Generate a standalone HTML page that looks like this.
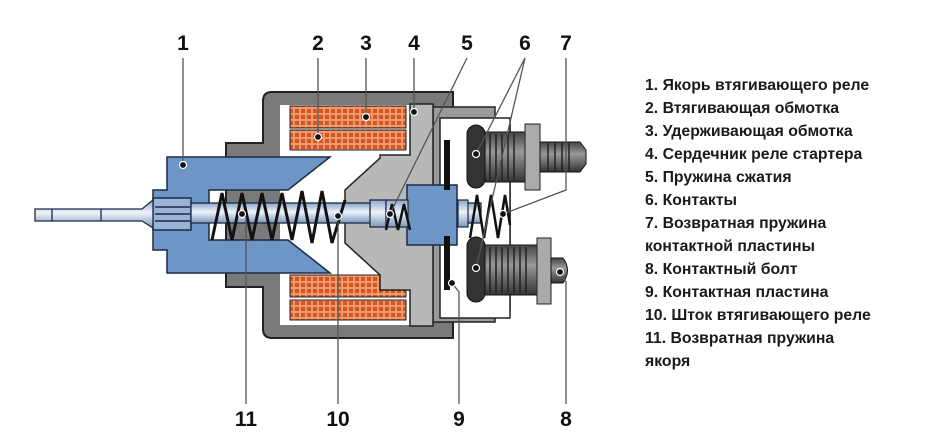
<!DOCTYPE html>
<html><head><meta charset="utf-8"><style>
body{margin:0;background:#fff;width:939px;height:445px;overflow:hidden}
svg{display:block}
.n{font-family:"Liberation Sans",sans-serif;font-weight:bold;font-size:21px;fill:#111;text-anchor:middle}
.t{font-family:"Liberation Sans","DejaVu Sans",sans-serif;font-size:15.8px;font-weight:bold;fill:#1a1a1a}
.l{stroke:#555;stroke-width:1.3;fill:none}
</style></head><body>
<svg width="939" height="445" viewBox="0 0 939 445">
<defs>
<pattern id="coil" width="6" height="6" patternUnits="userSpaceOnUse">
<rect width="6" height="6" fill="#f09a6a"/><rect x="1" y="1" width="4" height="4" fill="#d4552a"/>
</pattern>
<linearGradient id="rod" x1="0" y1="0" x2="0" y2="1">
<stop offset="0" stop-color="#8aa6c8"/><stop offset=".45" stop-color="#eef3fa"/><stop offset="1" stop-color="#7d98bc"/>
</linearGradient>
<linearGradient id="bolt" x1="0" y1="0" x2="0" y2="1">
<stop offset="0" stop-color="#444"/><stop offset=".4" stop-color="#999"/><stop offset="1" stop-color="#333"/>
</linearGradient>
</defs>
<!-- housing -->
<path d="M272,92 H453 V338 H272 Q263,338 263,329 V287 H226 V143 H263 V101 Q263,92 272,92Z" fill="#7a7a7a" stroke="#222" stroke-width="2"/>
<!-- contact frame -->
<path d="M433,107 H495 V125 H510 V310 H495 V322 H433Z" fill="#9a9a9a" stroke="#222" stroke-width="1.5"/>
<rect x="440" y="118" width="70" height="200" fill="#fff" stroke="#222" stroke-width="1.5"/>
<!-- inner cavity -->
<rect x="280" y="105" width="130" height="220" fill="#fff"/>
<!-- coils -->
<rect x="290" y="106" width="116" height="22" fill="url(#coil)" stroke="#222" stroke-width="1"/>
<rect x="290" y="130" width="116" height="20" fill="url(#coil)" stroke="#222" stroke-width="1"/>
<rect x="290" y="275" width="116" height="22" fill="url(#coil)" stroke="#222" stroke-width="1"/>
<rect x="290" y="300" width="116" height="20" fill="url(#coil)" stroke="#222" stroke-width="1"/>
<!-- core -->
<path d="M410,104 H433 V326 H410 V290 H380 V275 L345,243 V190 L380,158 V155 H410Z" fill="#b8b8b8" stroke="#222" stroke-width="1.5"/>
<!-- armature -->
<path d="M167,157 H330 L288,190 H209 V240 H288 L330,273 H167 V250 H153 V190 H167Z" fill="#6d95c6" stroke="#1c2a44" stroke-width="1.5"/>
<rect x="153" y="198" width="38" height="32" fill="#9ab4d6" stroke="#1c2a44" stroke-width="1.5"/>
<path d="M155,207 H190 M155,214 H190 M155,221 H190" stroke="#1c2a44" stroke-width="1.5"/>
<!-- left stub -->
<path d="M35,209 H142 L153,200 V228 L142,221 H35Z" fill="url(#rod)" stroke="#1c2a44" stroke-width="1.3"/>
<path d="M52,209 V221 M101,209 V221" stroke="#1c2a44" stroke-width="1.3"/>
<!-- rod -->
<rect x="191" y="203" width="290" height="20" fill="url(#rod)" stroke="#1c2a44" stroke-width="1.3"/>
<rect x="370" y="200" width="16" height="27" fill="url(#rod)" stroke="#1c2a44" stroke-width="1.3"/>
<!-- blue disk -->
<rect x="407" y="185" width="50" height="60" fill="#6d95c6" stroke="#1c2a44" stroke-width="1.5"/>
<rect x="386" y="200" width="22" height="27" fill="url(#rod)" stroke="#1c2a44" stroke-width="1.2"/>
<rect x="458" y="200" width="10" height="27" fill="url(#rod)" stroke="#1c2a44" stroke-width="1.2"/>
<!-- contact plate -->
<rect x="444" y="140" width="6" height="50" fill="#111"/>
<rect x="444" y="236" width="6" height="54" fill="#111"/>
<!-- springs -->
<polyline points="212,240 222,193 232,240 242,193 252,240 262,193 272,240 282,193 292,240 302,191 312,243 322,191 332,243 345,200" fill="none" stroke="#111" stroke-width="3"/>
<polyline points="386,230 392,204 398,230 404,204 410,230" fill="none" stroke="#111" stroke-width="2.5"/>
<polyline points="470,238 477,195 484,238 491,195 498,238 505,195 510,225" fill="none" stroke="#111" stroke-width="2.5"/>
<!-- bolts -->
<g>
<rect x="467" y="125" width="18" height="63" rx="9" fill="#333" stroke="#111"/>
<rect x="485" y="132" width="40" height="50" fill="url(#bolt)" stroke="#111"/>
<rect x="525" y="124" width="15" height="66" fill="#aaa" stroke="#222"/>
<path d="M540,142 H580 L586,150 V164 L580,172 H540Z" fill="url(#bolt)" stroke="#111"/>
<path d="M490,134 v46 M496,134 v46 M502,134 v46 M508,134 v46 M514,134 v46 M548,143 v28 M555,143 v28 M562,143 v28 M569,143 v28" stroke="#222" stroke-width="1.5"/>
</g>
<g>
<rect x="467" y="237" width="18" height="65" rx="9" fill="#333" stroke="#111"/>
<rect x="485" y="245" width="52" height="50" fill="url(#bolt)" stroke="#111"/>
<rect x="537" y="238" width="14" height="66" fill="#aaa" stroke="#222"/>
<path d="M551,258 H563 Q572,270 563,283 H551Z" fill="url(#bolt)" stroke="#111"/>
<path d="M490,247 v46 M496,247 v46 M502,247 v46 M508,247 v46 M514,247 v46 M520,247 v46 M526,247 v46" stroke="#222" stroke-width="1.5"/>
</g>
<!-- leaders -->
<path class="l" d="M183,58 V165"/><path class="l" d="M318,58 V137"/><path class="l" d="M366,58 V117"/>
<path class="l" d="M414,58 V112"/><path class="l" d="M467,58 L390,214"/>
<path class="l" d="M525,58 L476,154 M525,58 L476,268"/><path class="l" d="M566,58 V190 L503,214"/>
<path class="l" d="M246,217 V404"/><path class="l" d="M338,216 V404"/><path class="l" d="M452,283 L459,292 V404"/><path class="l" d="M560,272 L566,282 V404"/>
<g fill="#111" stroke="#fff" stroke-width="1.2">
<circle cx="183" cy="165" r="3.5"/><circle cx="318" cy="137" r="3.5"/><circle cx="366" cy="117" r="3.5"/><circle cx="414" cy="112" r="3.5"/>
<circle cx="390" cy="214" r="3.5"/><circle cx="476" cy="154" r="3.5"/><circle cx="476" cy="268" r="3.5"/><circle cx="503" cy="214" r="3.5"/>
<circle cx="242" cy="214" r="3.5"/><circle cx="338" cy="216" r="3.5"/><circle cx="452" cy="283" r="3.5"/><circle cx="560" cy="272" r="3.5"/>
</g>
<!-- numbers -->
<text class="n" x="183" y="50">1</text><text class="n" x="318" y="50">2</text><text class="n" x="366" y="50">3</text>
<text class="n" x="414" y="50">4</text><text class="n" x="467" y="50">5</text><text class="n" x="525" y="50">6</text><text class="n" x="566" y="50">7</text>
<text class="n" x="246" y="426">11</text><text class="n" x="338" y="426">10</text><text class="n" x="459" y="426">9</text><text class="n" x="566" y="426">8</text>
<!-- legend -->
<g class="t">
<text x="645" y="90">1. Якорь втягивающего реле</text>
<text x="645" y="113">2. Втягивающая обмотка</text>
<text x="645" y="136">3. Удерживающая обмотка</text>
<text x="645" y="159">4. Сердечник реле стартера</text>
<text x="645" y="182">5. Пружина сжатия</text>
<text x="645" y="205">6. Контакты</text>
<text x="645" y="228">7. Возвратная пружина</text>
<text x="645" y="251">контактной пластины</text>
<text x="645" y="274">8. Контактный болт</text>
<text x="645" y="297">9. Контактная пластина</text>
<text x="645" y="320">10. Шток втягивающего реле</text>
<text x="645" y="343">11. Возвратная пружина</text>
<text x="645" y="366">якоря</text>
</g>
</svg>
</body></html>
